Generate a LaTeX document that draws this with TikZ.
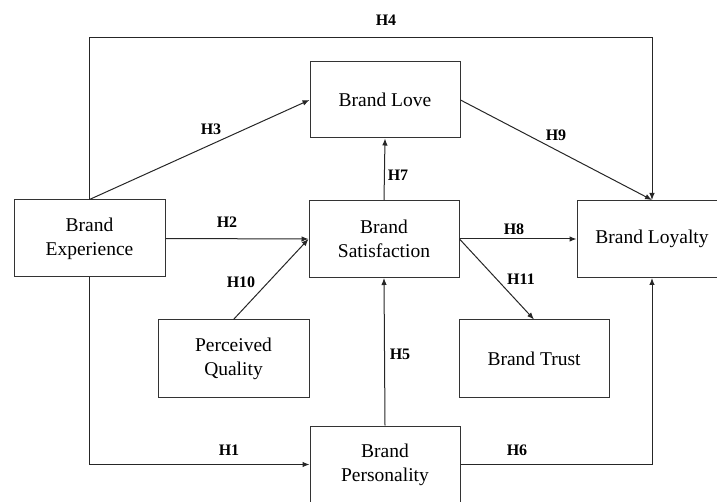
\documentclass[tikz,border=0pt]{standalone}
\usepackage{fontspec}
\setmainfont{Liberation Serif}
\usetikzlibrary{arrows.meta}
\begin{document}
\begin{tikzpicture}[x=1pt,y=-1pt,
  box/.style={draw=black!80, line width=1pt, minimum width=150pt, minimum height=77pt,
    align=center, inner sep=0pt, font=\fontsize{19.5}{24}\selectfont},
  conn/.style={draw=black!85, line width=1pt, -{Latex[length=7pt,width=5.5pt]}},
  lab/.style={inner sep=0pt, font=\fontsize{16}{18}\selectfont\bfseries}]
\useasboundingbox (0,0) rectangle (717,502);
\node[box, minimum width=151pt] (exp) at (89.5,238.5) {Brand\\Experience};
\node[box, minimum height=76pt] (love) at (385,100) {Brand Love};
\node[box] (sat) at (384,239) {Brand\\Satisfaction};
\node[box] (loy) at (652,239) {Brand Loyalty};
\node[box, minimum width=151pt] (pq) at (233.5,358.5) {Perceived\\Quality};
\node[box] (trust) at (534,358.5) {Brand Trust};
\node[box] (pers) at (385,464.5) {Brand\\Personality};
\coordinate (top) at (0,37.7);
% connectors
\draw[conn] (exp.north) -- (love.west);
\draw[conn] (exp.north) -- (exp.north |- top) -| (loy.north);
\draw[conn] (exp.east) -- (sat.west);
\draw[conn] (pq.north) -- (sat.west);
\draw[conn] (exp.south) |- (pers.west);
\draw[conn] (sat.north) -- (love.south);
\draw[conn] (pers.north) -- (sat.south);
\draw[conn] (love.east) -- (loy.north);
\draw[conn] (sat.east) -- (loy.west);
\draw[conn] (sat.east) -- (trust.north);
\draw[conn] (pers.east) -| (loy.south);
% labels
\node[lab] (h4) at (386,20) {H4};
\node[lab] (h3) at (211,129) {H3};
\node[lab] (h2) at (227,222) {H2};
\node[lab] (h7) at (398,175) {H7};
\node[lab] (h9) at (556,135) {H9};
\node[lab] (h8) at (514,229) {H8};
\node[lab] (h10) at (241,282) {H10};
\node[lab] (h1) at (229,450) {H1};
\node[lab] (h5) at (400,354) {H5};
\node[lab] (h11) at (521,279) {H11};
\node[lab] (h6) at (517,450) {H6};
\end{tikzpicture}
\end{document}
